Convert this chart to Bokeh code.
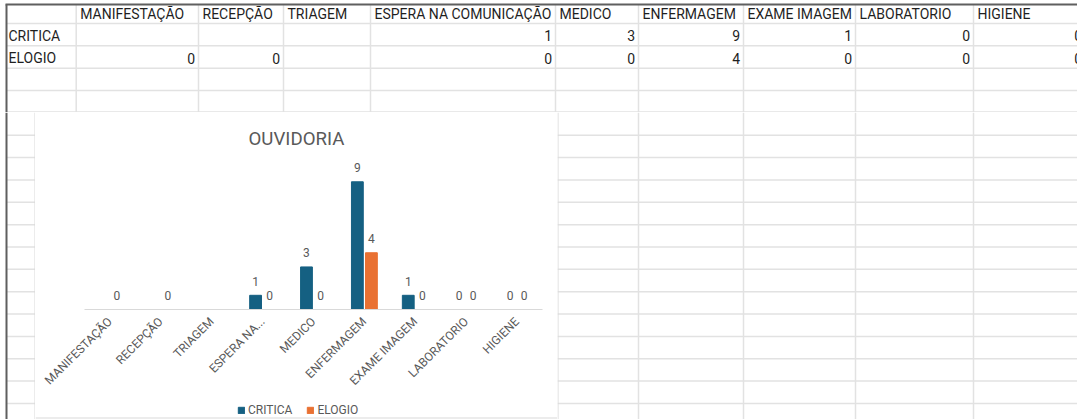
import math
from bokeh.plotting import figure
from bokeh.models import (FactorRange, Range1d, Legend, LegendItem,
                          ColumnDataSource)
from bokeh.transform import dodge
from bokeh.layouts import column, row
from bokeh.core.properties import value
from bokeh.embed import file_html
from bokeh.resources import INLINE

# ---------------- data ----------------
categories = ["MANIFESTAÇÃO", "RECEPÇÃO", "TRIAGEM", "ESPERA NA COMUNICAÇÃO",
              "MEDICO", "ENFERMAGEM", "EXAME IMAGEM", "LABORATORIO", "HIGIENE"]
axis_labels = ["MANIFESTAÇÃO", "RECEPÇÃO", "TRIAGEM", "ESPERA NA...",
               "MEDICO", "ENFERMAGEM", "EXAME IMAGEM", "LABORATORIO", "HIGIENE"]
critica = [None, None, None, 1, 3, 9, 1, 0, 0]
elogio = [0, 0, None, 0, 0, 4, 0, 0, 0]
series_names = ["CRITICA", "ELOGIO"]
series_colors = ["#156082", "#E97132"]
chart_title = "OUVIDORIA"

FONT = "Roboto"
GRID = "#e2e2e2"
BORDER = "#5f5f5f"
TXT = "#1f1f1f"
CTXT = "#595959"
CHART_EDGE = "#d9d9d9"

# ---------------- spreadsheet geometry (screen px) ----------------
col_bounds = [6, 75.7, 198, 283, 370, 555, 638, 743, 855, 973, 1085]
row_lines = [23 + 22.35 * k for k in range(18)]
X0, X1 = 0, 1077
Y0, YC, Y1 = 0, 112, 419
CL, CR = 35, 557   # chart left / right
LEG_H = 19         # legend strip height at the bottom of the chart


def sheet_fig(x0, x1, y0, y1):
    f = figure(width=int(round(x1 - x0)), height=int(round(y1 - y0)),
               x_range=Range1d(x0, x1), y_range=Range1d(y1, y0),
               output_backend="svg", toolbar_location=None, min_border=0,
               x_axis_location=None, y_axis_location=None,
               outline_line_color=None, background_fill_color="white",
               border_fill_color="white", frame_align=False)
    f.grid.visible = False
    return f


# top part of sheet
top = sheet_fig(X0, X1, Y0, YC)
hl = [y for y in row_lines if y < YC - 1] + [YC - 0.5]
top.segment(x0=[6] * len(hl), x1=[X1] * len(hl), y0=hl, y1=hl,
            line_color=GRID, line_width=1.5)
vl = col_bounds[1:-1]
top.segment(x0=vl, x1=vl, y0=[4] * len(vl), y1=[YC] * len(vl),
            line_color=GRID, line_width=1.5)
top.segment(x0=[5, 6], x1=[X1, 6], y0=[4, 4], y1=[4, YC],
            line_color=BORDER, line_width=2)

hx = [col_bounds[i + 1] + 4 for i in range(len(categories))]
top.text(x=hx, y=[13.5] * len(categories), text=categories,
         text_font=value(FONT), text_font_size="14px", text_color=TXT,
         text_align="left", text_baseline="middle")
top.text(x=[8, 8], y=[35, 57.5], text=series_names,
         text_font=value(FONT), text_font_size="14px", text_color=TXT,
         text_align="left", text_baseline="middle")
for vals, yy in zip([critica, elogio], [35, 57.5]):
    xs, ts = [], []
    for i, v in enumerate(vals):
        if v is not None:
            xs.append(col_bounds[i + 2] - 3.5)
            ts.append(str(v))
    top.text(x=xs, y=[yy] * len(xs), text=ts, text_font=value(FONT),
             text_font_size="14px", text_color=TXT, text_align="right",
             text_baseline="middle")

# bottom-left strip
left = sheet_fig(X0, CL, YC, Y1)
bl = [y for y in row_lines if y > YC + 1]
left.segment(x0=[6] * len(bl), x1=[CL] * len(bl), y0=bl, y1=bl,
             line_color=GRID, line_width=1.5)
left.segment(x0=[6], x1=[6], y0=[YC], y1=[Y1], line_color=BORDER, line_width=2)
left.segment(x0=[CL - 0.5], x1=[CL - 0.5], y0=[YC], y1=[Y1],
             line_color=CHART_EDGE, line_width=1)

# bottom-right area
right = sheet_fig(CR, X1, YC, Y1)
right.segment(x0=[CR] * len(bl), x1=[X1] * len(bl), y0=bl, y1=bl,
              line_color=GRID, line_width=1.5)
rv = [x for x in col_bounds if CR < x < X1]
right.segment(x0=rv, x1=rv, y0=[YC] * len(rv), y1=[Y1] * len(rv),
              line_color=GRID, line_width=1.5)
right.segment(x0=[CR + 0.5], x1=[CR + 0.5], y0=[YC], y1=[Y1],
              line_color=CHART_EDGE, line_width=1)

# ---------------- chart ----------------
nan = float("nan")
src = ColumnDataSource(dict(
    cat=axis_labels,
    critica=[nan if v is None else v for v in critica],
    elogio=[nan if v is None else v for v in elogio],
))

CH = Y1 - YC - LEG_H
chart = figure(x_range=FactorRange(factors=axis_labels), y_range=Range1d(0, 10.5),
               width=CR - CL, height=CH, output_backend="svg",
               toolbar_location=None, min_border_left=49, min_border_right=15,
               min_border_top=48, min_border_bottom=CH - 197,
               y_axis_location=None, outline_line_color=None,
               background_fill_color="white", border_fill_color="white",
               frame_align=False)
chart.grid.visible = False

chart.title.text = chart_title
chart.title.align = "left"
chart.title.offset = 164
chart.title.standoff = 21
chart.title.text_font = FONT
chart.title.text_font_size = "18.67px"
chart.title.text_font_style = "normal"
chart.title.text_color = CTXT

OFF = 0.138
W = 0.232
for name, col, off in zip(series_names, series_colors, [-OFF, OFF]):
    chart.vbar(x=dodge("cat", off, range=chart.x_range), top=name.lower(),
               width=W, source=src, fill_color=col, line_color=col)

for vals, off in zip([critica, elogio], [-OFF, OFF]):
    lc, lv, lt = [], [], []
    for c, v in zip(axis_labels, vals):
        if v is not None:
            lc.append(c)
            lv.append(v)
            lt.append(str(v))
    ls = ColumnDataSource(dict(cat=lc, v=lv, t=lt))
    chart.text(x=dodge("cat", off, range=chart.x_range), y="v", text="t",
               source=ls, text_align="center", text_baseline="alphabetic",
               y_offset=-14, text_font=value(FONT), text_font_size="12px",
               text_color=CTXT)

ax = chart.xaxis[0]
ax.major_label_orientation = math.pi / 4
ax.major_label_standoff = 4
ax.major_tick_line_color = None
ax.minor_tick_line_color = None
ax.axis_line_color = CHART_EDGE
ax.major_label_text_font = FONT
ax.major_label_text_font_size = "12px"
ax.major_label_text_color = CTXT

# legend strip (bottom of the chart area)
legfig = sheet_fig(CL, CR, Y1 - LEG_H, Y1)
legfig.segment(x0=[CL], x1=[CR], y0=[Y1 - 1.5], y1=[Y1 - 1.5],
               line_color=CHART_EDGE, line_width=1)
keys = [legfig.vbar(x=[nan], top=[nan], width=1, fill_color=c, line_color=c)
        for c in series_colors]
legend = Legend(items=[LegendItem(label=n, renderers=[r])
                       for n, r in zip(series_names, keys)],
                orientation="horizontal", location=(202, 2),
                glyph_width=8, glyph_height=8, label_standoff=3, spacing=14,
                padding=0, margin=0, border_line_color=None,
                background_fill_alpha=0, label_height=12,
                label_text_font=FONT, label_text_font_size="12px",
                label_text_color=CTXT)
legfig.add_layout(legend)

layout = column(top,
                row(left, column(chart, legfig, spacing=0), right, spacing=0),
                spacing=0)

open("out.html", "w").write(file_html(layout, INLINE))
